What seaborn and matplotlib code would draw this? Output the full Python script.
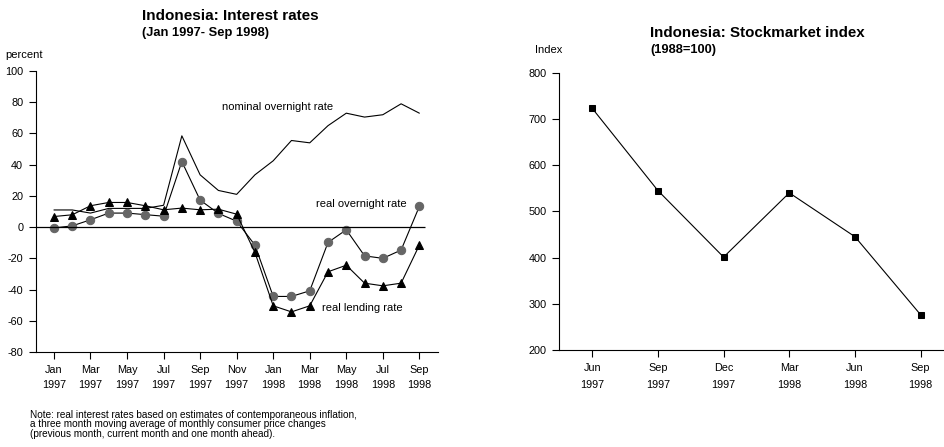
import matplotlib
matplotlib.use("Agg")
import matplotlib.pyplot as plt
import seaborn as sns
import pandas as pd

# --------------------------
# DATA
# --------------------------
months = ["Jan 1997", "Feb 1997", "Mar 1997", "Apr 1997", "May 1997", "Jun 1997",
          "Jul 1997", "Aug 1997", "Sep 1997", "Oct 1997", "Nov 1997", "Dec 1997",
          "Jan 1998", "Feb 1998", "Mar 1998", "Apr 1998", "May 1998", "Jun 1998",
          "Jul 1998", "Aug 1998", "Sep 1998"]
nominal_overnight = [11, 11, 9, 12, 12, 12, 14, 58.5, 33.5, 23.5, 21, 33.5,
                     42.5, 55.5, 54, 65, 73, 70.5, 72, 79, 73]
real_overnight = [-0.5, 0.8, 4.7, 9, 9, 8, 7, 42, 17.3, 8.8, 3.8, -11.5,
                  -44.4, -44.4, -40.8, -9.8, -1.7, -18.4, -20, -14.7, 13.3]
real_lending = [6.8, 7.9, 13.7, 15.8, 15.8, 13.7, 11.1, 12.2, 11.1, 11.5, 8.3, -16.2,
                -50.4, -54.3, -50.4, -28.6, -24.4, -35.9, -37.6, -35.9, -11.5]

quarters = ["Jun 1997", "Sep 1997", "Dec 1997", "Mar 1998", "Jun 1998", "Sep 1998"]
stock_index = [723, 545, 401, 540, 445, 276]

rates = pd.DataFrame({"month": range(len(months)),
                      "nominal": nominal_overnight,
                      "real_on": real_overnight,
                      "real_lend": real_lending})
stocks = pd.DataFrame({"quarter": range(len(quarters)), "index": stock_index})

sns.set_style("ticks")
plt.rcParams["font.family"] = ["Liberation Sans", "DejaVu Sans"]
plt.rcParams.update({"text.color": "black", "axes.edgecolor": "black",
                     "xtick.color": "black", "ytick.color": "black",
                     "axes.labelcolor": "black"})

fig = plt.figure(figsize=(9.44, 4.47), dpi=100)

# --------------------------
# LEFT: INTEREST RATES
# --------------------------
ax1 = fig.add_axes([0.0378, 0.2125, 0.4258, 0.6286])
sns.lineplot(data=rates, x="month", y="nominal", ax=ax1, color="black", lw=0.8)
sns.lineplot(data=rates, x="month", y="real_on", ax=ax1, color="black", lw=0.8,
             marker="o", markersize=6, markerfacecolor="#666666",
             markeredgecolor="#666666")
sns.lineplot(data=rates, x="month", y="real_lend", ax=ax1, color="black", lw=0.8,
             marker="^", markersize=6, markerfacecolor="black",
             markeredgecolor="black")
ax1.hlines(0, -1, 20.3, color="black", lw=0.9)

ax1.set_xlim(-1, 21)
ax1.set_ylim(-80, 100)
ax1.set_yticks(range(-80, 101, 20))
ax1.set_yticklabels([str(v) for v in range(-80, 101, 20)], fontsize=7.8)
ax1.set_xticks(range(0, len(months), 2))
ax1.set_xticklabels([m.replace(" ", "\n") for m in months[::2]], fontsize=7.8,
                    linespacing=1.7)
ax1.tick_params(length=5, width=0.8, pad=4)
ax1.set_xlabel("")
ax1.set_ylabel("")
for s in ["top", "right"]:
    ax1.spines[s].set_visible(False)
for s in ["left", "bottom"]:
    ax1.spines[s].set_linewidth(0.8)

ax1.text(9.2, 77, "nominal overnight rate", fontsize=8, ha="left", va="center")
ax1.text(14.35, 14.5, "real overnight rate", fontsize=8, ha="left", va="center")
ax1.text(14.65, -52, "real lending rate", fontsize=8, ha="left", va="center")

fig.text(0.150, 0.965, "Indonesia: Interest rates", fontsize=11, fontweight="bold",
         ha="left", va="center")
fig.text(0.150, 0.926, "(Jan 1997- Sep 1998)", fontsize=9.3, fontweight="bold",
         ha="left", va="center")
fig.text(0.006, 0.877, "percent", fontsize=8, ha="left", va="center")
fig.text(0.032, 0.051,
         "Note: real interest rates based on estimates of contemporaneous inflation,\n"
         "a three month moving average of monthly consumer price changes\n"
         "(previous month, current month and one month ahead).",
         fontsize=7.2, ha="left", va="center", linespacing=0.95)

# --------------------------
# RIGHT: STOCKMARKET INDEX
# --------------------------
ax2 = fig.add_axes([0.5925, 0.217, 0.4065, 0.6204])
sns.lineplot(data=stocks, x="quarter", y="index", ax=ax2, color="black", lw=0.8,
             marker="s", markersize=5, markerfacecolor="black",
             markeredgecolor="black")
ax2.set_xlim(-0.5, 5.34)
ax2.set_ylim(200, 800)
ax2.set_yticks(range(200, 801, 100))
ax2.set_yticklabels([str(v) for v in range(200, 801, 100)], fontsize=7.8)
ax2.set_xticks(range(len(quarters)))
ax2.set_xticklabels([q.replace(" ", "\n") for q in quarters], fontsize=7.8,
                    linespacing=1.95)
ax2.tick_params(length=5, width=0.8, pad=4)
ax2.set_xlabel("")
ax2.set_ylabel("")
for s in ["top", "right"]:
    ax2.spines[s].set_visible(False)
for s in ["left", "bottom"]:
    ax2.spines[s].set_linewidth(0.8)

fig.text(0.689, 0.926, "Indonesia: Stockmarket index", fontsize=10.9,
         fontweight="bold", ha="left", va="center")
fig.text(0.689, 0.888, "(1988=100)", fontsize=9.3, fontweight="bold",
         ha="left", va="center")
fig.text(0.567, 0.888, "Index", fontsize=8, ha="left", va="center")

fig.savefig("out.png", dpi=100)
